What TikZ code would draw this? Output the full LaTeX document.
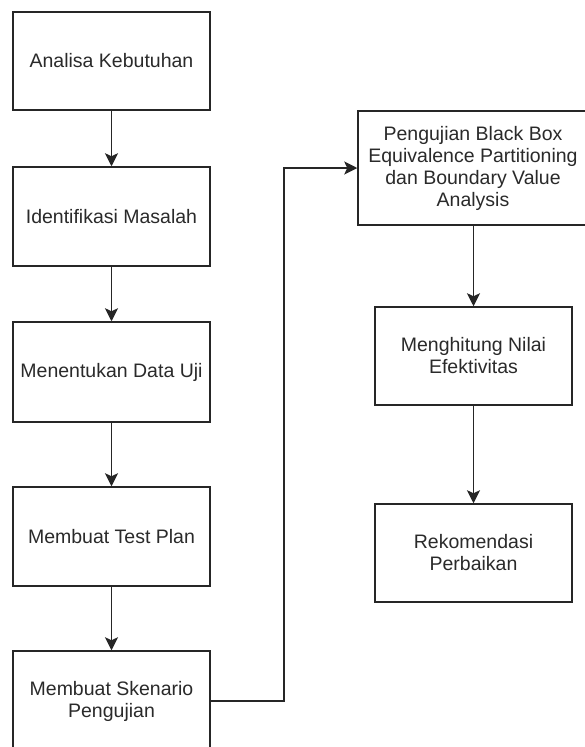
\documentclass[tikz,border=0pt]{standalone}
\usepackage{fontspec}
\setmainfont{Liberation Sans}
\usetikzlibrary{arrows.meta}
\definecolor{txt}{HTML}{2A2A2A}
\tikzset{
  box/.style={draw=black!85, line width=1.5pt, fill=white, minimum width=197pt, align=center, inner sep=0pt, text=txt, font=\fontsize{19.5}{22}\selectfont},
  arr/.style={draw=black!85, line width=1.5pt, -{Stealth[length=13pt,width=13pt,inset=3pt]}}
}
\begin{document}
\begin{tikzpicture}[x=1pt,y=-1pt]
\useasboundingbox (0,0) rectangle (585,747);
\clip (0,0) rectangle (585,747);
\fill[white] (0,0) rectangle (585,747);
\node[box, minimum height=98pt] (b1) at (111.5,61) {Analisa Kebutuhan};
\node[box, minimum height=99pt] (b2) at (111.5,216.5) {Identifikasi Masalah};
\node[box, minimum height=100pt] (b3) at (111.5,372) {Menentukan Data Uji};
\node[box, minimum height=99pt] (b4) at (111.5,536.5) {Membuat Test Plan};
\node[box, minimum height=100pt] (b5) at (111.5,701) {Membuat Skenario\\Pengujian};
\node[box, minimum width=230pt, minimum height=114pt] (r1) at (473,168) {Pengujian Black Box\\Equivalence Partitioning\\dan Boundary Value\\Analysis};
\node[box, minimum height=98pt] (r2) at (473.5,356) {Menghitung Nilai\\Efektivitas};
\node[box, minimum height=98pt] (r3) at (473.5,553) {Rekomendasi\\Perbaikan};
\coordinate (k) at (284,701);
\draw[arr] (b1) -- (b2);
\draw[arr] (b2) -- (b3);
\draw[arr] (b3) -- (b4);
\draw[arr] (b4) -- (b5);
\draw[arr] (b5.east) -- (k) |- (r1.west);
\draw[arr] (r1.south -| r2.north) -- (r2.north);
\draw[arr] (r2) -- (r3);
\end{tikzpicture}
\end{document}
